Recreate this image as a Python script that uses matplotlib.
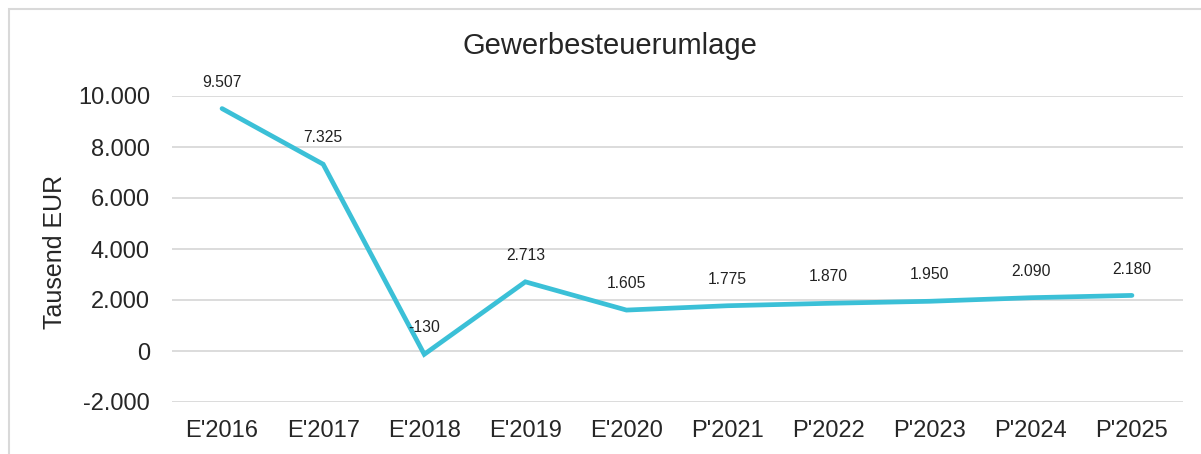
import matplotlib.pyplot as plt
from matplotlib.patches import Rectangle

plt.rcParams['font.family'] = ['Liberation Sans', 'DejaVu Sans']

categories = ["E'2016", "E'2017", "E'2018", "E'2019", "E'2020",
              "P'2021", "P'2022", "P'2023", "P'2024", "P'2025"]
values = [9507, 7325, -130, 2713, 1605, 1775, 1870, 1950, 2090, 2180]
y_ticks = [-2000, 0, 2000, 4000, 6000, 8000, 10000]


def de_format(v):
    return f'{v:,.0f}'.replace(',', '.')


W, H = 1201, 454
fig = plt.figure(figsize=(W / 100, H / 100), dpi=100)
ax = fig.add_axes([171.5 / W, 1 - 402 / H, 1011 / W, 306 / H])

# outer chart border (light gray, open at the right and bottom)
fig.patches.append(Rectangle((9 / W, -0.1), 1.2, 1 - 9.5 / H + 0.1,
                             transform=fig.transFigure, fill=False,
                             edgecolor='#d9d9d9', linewidth=1.5))

x = list(range(len(categories)))
ax.plot(x, values, color='#3bc0d7', linewidth=3.4, solid_capstyle='round',
        solid_joinstyle='miter', zorder=3)

for xi, v in zip(x, values):
    ax.annotate(de_format(v), (xi, v), textcoords='offset points',
                xytext=(0, 19), ha='center', va='center', fontsize=11.3,
                color='#222222')

ax.set_xlim(-0.5, len(categories) - 0.5)
ax.set_ylim(-2000, 10000)
ax.set_yticks(y_ticks)
ax.set_yticklabels([de_format(t) for t in y_ticks])
ax.set_xticks(x)
ax.set_xticklabels(categories)
ax.tick_params(axis='both', length=0, labelsize=17, colors='#262626')
ax.tick_params(axis='y', pad=15.5)
ax.tick_params(axis='x', pad=13)
ax.grid(axis='y', color='#d9d9d9', linewidth=1.3)
ax.set_axisbelow(True)
for s in ax.spines.values():
    s.set_visible(False)

ax.set_ylabel('Tausend EUR', fontsize=18, color='#262626')
ax.yaxis.set_label_coords((67 - 171.5) / 1011, 0.49)
fig.text(610 / W, 1 - 46 / H, 'Gewerbesteuerumlage', ha='center', va='center',
         fontsize=21, color='#262626')

fig.savefig('out.png', dpi=100)
